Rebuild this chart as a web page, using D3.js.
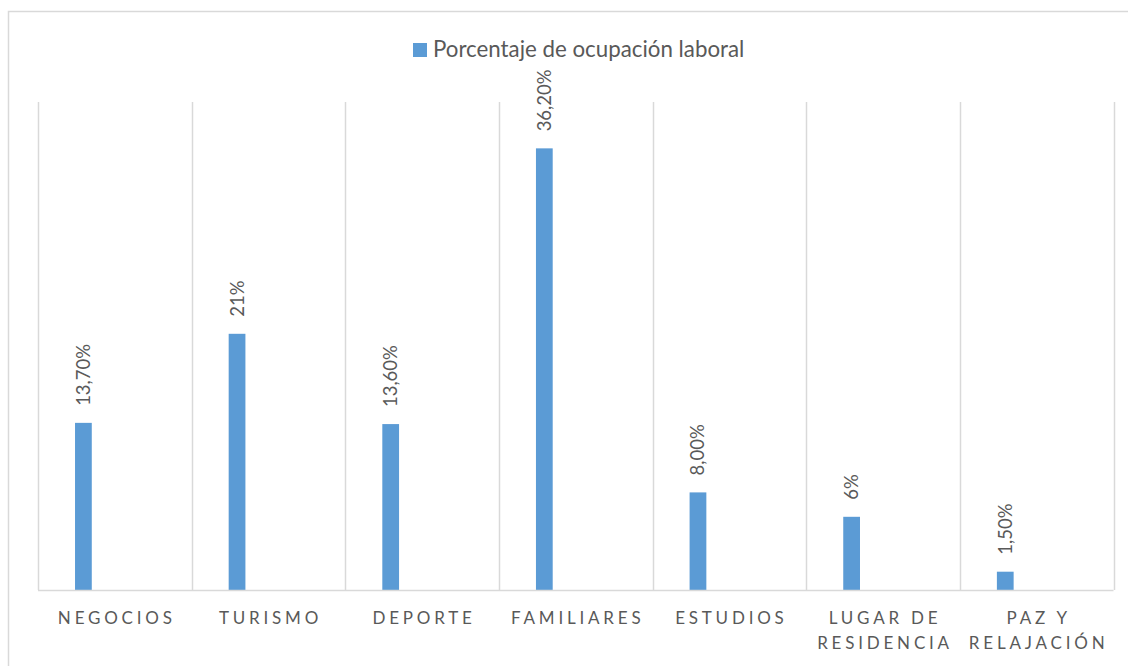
<!DOCTYPE html>
<html>
<head>
<meta charset="utf-8">
<script src="https://cdn.jsdelivr.net/npm/d3@7"></script>
<style>
  body { margin: 0; background: #fff; }
  text { font-family: Lato, "Open Sans", sans-serif; fill: #595959; }
</style>
</head>
<body>
<script>
// data
var categories = ["NEGOCIOS", "TURISMO", "DEPORTE", "FAMILIARES", "ESTUDIOS", "LUGAR DE RESIDENCIA", "PAZ Y RELAJACIÓN"];
var catLines = [["NEGOCIOS"], ["TURISMO"], ["DEPORTE"], ["FAMILIARES"], ["ESTUDIOS"], ["LUGAR DE", "RESIDENCIA"], ["PAZ Y", "RELAJACIÓN"]];
var values = [13.7, 21, 13.6, 36.2, 8.0, 6, 1.5];
var valueLabels = ["13,70%", "21%", "13,60%", "36,20%", "8,00%", "6%", "1,50%"];
var seriesName = "Porcentaje de ocupación laboral";

var width = 1128,
    height = 666;

var margin = {top: 102, left: 38, right: 14.5, bottom: 76};

var svg = d3.select("body").append("svg")
    .attr("width", width)
    .attr("height", height);

// outer chart frame (runs off right/bottom like the screenshot)
svg.append("rect")
    .attr("x", 8.5).attr("y", 11.5)
    .attr("width", width + 10).attr("height", height + 10)
    .attr("fill", "none")
    .attr("stroke", "#d9d9d9")
    .attr("stroke-width", 1.5);

var x = d3.scaleBand()
    .domain(categories)
    .range([margin.left, width - margin.right])
    .paddingInner(0).paddingOuter(0);

var y = d3.scaleLinear()
    .domain([0, 40])
    .range([height - margin.bottom, margin.top]);

// bar sits in the left part of each category slot
var barOffset = 0.241, barWidth = 0.109;

// vertical separators
var edges = categories.map(function(c){ return x(c); }).concat([x.range()[1]]);
svg.append("g").selectAll("line")
    .data(edges)
  .enter().append("line")
    .attr("x1", function(d){ return Math.round(d) + 0.5; })
    .attr("x2", function(d){ return Math.round(d) + 0.5; })
    .attr("y1", y(40))
    .attr("y2", y(0))
    .attr("stroke", "#d9d9d9")
    .attr("stroke-width", 1.5);

// bars
svg.append("g").selectAll("rect")
    .data(values)
  .enter().append("rect")
    .attr("x", function(d, i){ return x(categories[i]) + x.bandwidth() * barOffset; })
    .attr("width", x.bandwidth() * barWidth)
    .attr("y", function(d){ return y(d); })
    .attr("height", function(d){ return y(0) - y(d); })
    .attr("fill", "#5b9bd5");

// baseline
svg.append("line")
    .attr("x1", x.range()[0]).attr("x2", x.range()[1])
    .attr("y1", y(0) + 0.5).attr("y2", y(0) + 0.5)
    .attr("stroke", "#d9d9d9")
    .attr("stroke-width", 1.5);

// value labels, rotated
svg.append("g").selectAll("text")
    .data(values)
  .enter().append("text")
    .attr("transform", function(d, i){
      var cx = x(categories[i]) + x.bandwidth() * (barOffset + barWidth / 2);
      return "translate(" + (cx + 6.5) + "," + (y(d) - 17) + ") rotate(-90)";
    })
    .attr("font-size", 18.5)
    .text(function(d, i){ return valueLabels[i]; });

// category labels
var cat = svg.append("g").selectAll("text")
    .data(categories)
  .enter().append("text")
    .attr("x", function(d){ return x(d) + x.bandwidth() / 2 + 2; })
    .attr("y", 624)
    .attr("text-anchor", "middle")
    .attr("font-size", 17)
    .attr("letter-spacing", 3.8);
cat.selectAll("tspan")
    .data(function(d, i){ return catLines[i]; })
  .enter().append("tspan")
    .attr("x", function(){ return d3.select(this.parentNode).attr("x"); })
    .attr("dy", function(d, i){ return i ? 25 : 0; })
    .text(function(d){ return d; });

// legend
var lg = svg.append("g").attr("transform", "translate(413,43)");
lg.append("rect")
    .attr("width", 14).attr("height", 14)
    .attr("fill", "#5b9bd5");
lg.append("text")
    .attr("x", 20).attr("y", 14)
    .attr("font-size", 22.3)
    .text(seriesName);
</script>
</body>
</html>
